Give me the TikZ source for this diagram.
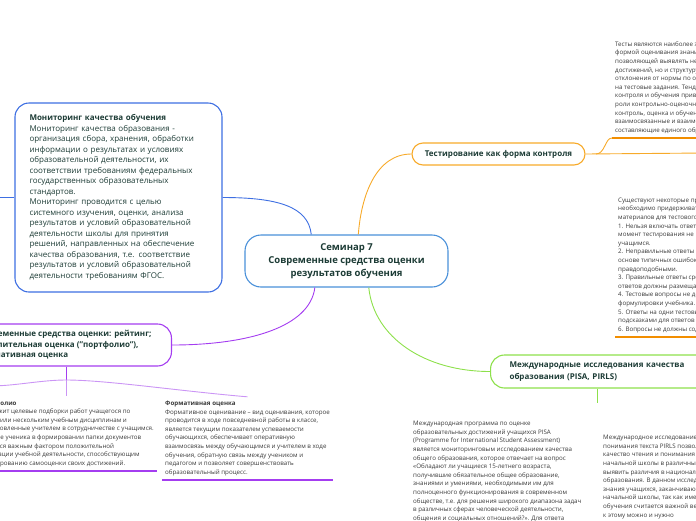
\documentclass[tikz,border=0pt]{standalone}
\usepackage{fontspec}
\setmainfont{Open Sans}
\usepackage{tikz}

\definecolor{titlecol}{HTML}{1C3B35}
\definecolor{bodycol}{HTML}{3A3A3A}
\definecolor{seminarblue}{HTML}{4A90D9}
\definecolor{monblue}{HTML}{3E6FE2}
\definecolor{testorange}{HTML}{F7AA2A}
\definecolor{testdark}{HTML}{F28E00}
\definecolor{studygreen}{HTML}{8DE04B}
\definecolor{toolpurple}{HTML}{A43DF0}
\definecolor{toollight}{HTML}{CB95F5}

\tikzset{
  topic/.style={draw, line width=1.1pt, rounded corners=14pt, text=titlecol, align=left,
    font=\bfseries\fontsize{8}{11.5}\selectfont},
  leaf/.style={inner xsep=3pt, inner ysep=4pt, text=bodycol, align=left,
    font=\fontsize{6.2}{8.6}\selectfont},
  link/.style={line width=0.9pt},
  underline/.style={line width=1.4pt},
}

\begin{document}
\begin{tikzpicture}[x=1pt, y=-1pt]
        \useasboundingbox (0,0) rectangle (696,520);
        \clip (0,0) rectangle (696,520);
        % Nodes
        \node[topic, draw=seminarblue, rounded corners=16pt, align=center, minimum width=203pt,
          minimum height=52pt, font=\bfseries\fontsize{9.5}{13.3}\selectfont] (seminar) at (346.5, 261)
          {Семинар 7\\Современные средства оценки\\результатов обучения};
        \node[topic, draw=monblue, text width=178pt, inner xsep=14.5pt, minimum height=189pt,
          font=\fontsize{8}{10.5}\selectfont] (monitoring) at (118.5, 197.5)
          {\textbf{Мониторинг качества обучения}\\
           Мониторинг качества образования -\\
           организация сбора, хранения, обработки\\
           информации о результатах и условиях\\
           образовательной деятельности, их\\
           соответствии требованиям федеральных\\
           государственных образовательных\\
           стандартов.\\
           Мониторинг проводится с целью\\
           системного изучения, оценки, анализа\\
           результатов и условий образовательной\\
           деятельности школы для принятия\\
           решений, направленных на обеспечение\\
           качества образования, т.е. соответствие\\
           результатов и условий образовательной\\
           деятельности требованиям ФГОС.};
        \node[topic, draw=testorange, rounded corners=11pt, align=center, minimum width=173pt,
          minimum height=22pt] (testing) at (498.5, 154) {Тестирование как форма контроля};
        \node[topic, draw=studygreen, anchor=west, text width=190pt, inner xsep=19pt,
          minimum height=33pt] (studies) at (490, 371.5)
          {Международные исследования качества\\образования (PISA, PIRLS)};
        \node[topic, draw=toolpurple, anchor=east, inner xsep=20pt, minimum height=42pt,
          font=\bfseries\fontsize{8}{10.8}\selectfont] (tools) at (172, 345)
          {Современные средства оценки: рейтинг;\\накопительная оценка ("портфолио"),\\формативная оценка};
        \node[leaf, anchor=south west] (testsummary) at (612, 138)
          {Тесты являются наиболее эффективной\\
           формой оценивания знаний учащихся,\\
           позволяющей выявлять не только уровень\\
           достижений, но и структуру знаний и\\
           отклонения от нормы по ответам\\
           на тестовые задания. Тенденция\\
           контроля и обучения приводит к\\
           роли контрольно-оценочной\\
           контроль, оценка и обучение —\\
           взаимосвязанные и взаимообусловленные\\
           составляющие единого образовательного};
        \node[leaf, anchor=south west] (testrules) at (615, 337)
          {Существуют некоторые правила, которых\\
           необходимо придерживаться при разработке\\
           материалов для тестового контроля:\\
           1. Нельзя включать ответы, неправильность\\
           момент тестирования не может быть\\
           учащимся.\\
           2. Неправильные ответы должны\\
           основе типичных ошибок и быть\\
           правдоподобными.\\
           3. Правильные ответы среди всех\\
           ответов должны размещаться\\
           4. Тестовые вопросы не должны\\
           формулировки учебника.\\
           5. Ответы на одни тестовые вопросы\\
           подсказками для ответов на другие.\\
           6. Вопросы не должны содержать};
        \node[leaf, anchor=north west] (pisa) at (410, 417)
          {Международная программа по оценке\\
           образовательных достижений учащихся PISA\\
           (Programme for International Student Assessment)\\
           является мониторинговым исследованием качества\\
           общего образования, которое отвечает на вопрос\\
           «Обладают ли учащиеся 15-летнего возраста,\\
           получившие обязательное общее образование,\\
           знаниями и умениями, необходимыми им для\\
           полноценного функционирования в современном\\
           обществе, т.е. для решения широкого диапазона задач\\
           в различных сферах человеческой деятельности,\\
           общения и социальных отношений?». Для ответа};
        \node[leaf, anchor=north west] (pirls) at (600, 431)
          {Международное исследование качества\\
           понимания текста PIRLS позволяет\\
           качество чтения и понимания текста\\
           начальной школы в различных странах\\
           выявить различия в национальных\\
           образования. В данном исследовании\\
           знания учащихся, заканчивающих\\
           начальной школы, так как именно\\
           обучения считается важной вехой\\
           к этому можно и нужно};
        \node[leaf, anchor=south east] (portfolio) at (157, 471)
          {\textbf{Портфолио}\\
           Содержит целевые подборки работ учащегося по\\
           одной или нескольким учебным дисциплинам и\\
           подготовленные учителем в сотрудничестве с учащимся.\\
           Участие ученика в формировании папки документов\\
           является важным фактором положительной\\
           мотивации учебной деятельности, способствующим\\
           формированию самооценки своих достижений.};
        \node[leaf, anchor=south west] (formative) at (162, 480)
          {\textbf{Формативная оценка}\\
           Формативное оценивание – вид оценивания, которое\\
           проводится в ходе повседневной работы в классе,\\
           является текущим показателем успеваемости\\
           обучающихся, обеспечивает оперативную\\
           взаимосвязь между обучающимся и учителем в ходе\\
           обучения, обратную связь между учеником и\\
           педагогом и позволяет совершенствовать\\
           образовательный процесс.};
        \coordinate (monleft) at (-10, 197.5);
        \coordinate (testfork) at (596, 154);
        \coordinate (testright) at (705, 153);
        \coordinate (studiesfork) at (597, 403);
        \coordinate (toolsfork) at (66, 380);
        \coordinate (toolsleft) at (-10, 386);
        % Edges
        \draw[link, monblue] (seminar.143) .. controls +(-3,-28) and +(55,0) .. (monitoring.east);
        \draw[link, monblue] (monitoring.west) -- (monleft);
        \draw[link, testorange] (seminar.66) .. controls +(3,-40) and +(-35,0) .. (testing.west);
        \draw[link, testorange] (testing.east) -- (testright);
        \draw[link, testorange] (testfork) .. controls +(9,0) and +(-7,0) .. (testsummary.south west);
        \draw[link, studygreen] (seminar.310) .. controls +(5,50) and +(-65,0) .. (studies.west);
        \draw[link, studygreen] (studies.south -| studiesfork) -- (studiesfork);
        \draw[link, toolpurple] (tools.east) .. controls +(75,0) and +(-5,40) .. (seminar.220);
        \draw[link, toolpurple] (tools.south -| toolsfork) -- (toolsfork);
        \draw[link, toollight] (toolsfork) .. controls +(-25,0) and +(25,0) .. (toolsleft);
        \draw[link, toollight] (toolsfork) .. controls +(40,0) and +(-70,-6) .. (formative.north);
        \draw[link, toollight] (toolsfork) -- (portfolio.north -| toolsfork);
        \draw[underline, testdark] (testsummary.south west) -- (testsummary.south east);
        \draw[underline, testdark] (testrules.south west) -- (testrules.south east);
        \draw[underline, toolpurple] (portfolio.south west) -- (portfolio.south east);
        \draw[underline, toolpurple] (formative.south west) -- (formative.south east);
\end{tikzpicture}
\end{document}
